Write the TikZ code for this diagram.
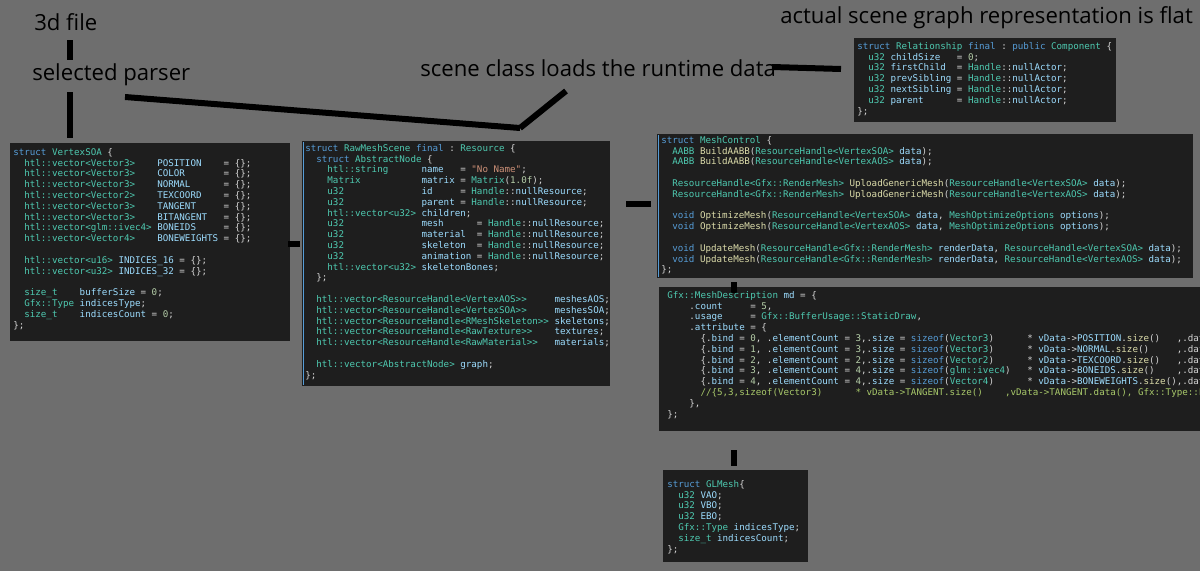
\documentclass[tikz,border=0pt]{standalone}
\usepackage{fontspec}
\setmainfont{Open Sans}
\setmonofont{DejaVu Sans Mono}
\usepackage{xcolor}
\definecolor{pagebg}{HTML}{6E6E6E}
\definecolor{codebg}{HTML}{1E1E1E}
\definecolor{kw}{HTML}{569CD6}
\definecolor{ty}{HTML}{4EC9B0}
\definecolor{va}{HTML}{9CDCFE}
\definecolor{fn}{HTML}{DCDCAA}
\definecolor{st}{HTML}{CE9178}
\definecolor{nu}{HTML}{B5CEA8}
\definecolor{cm}{HTML}{A8C86A}
\definecolor{pl}{HTML}{D4D4D4}
\newcommand\K[1]{\textcolor{kw}{#1}}
\newcommand\T[1]{\textcolor{ty}{#1}}
\newcommand\V[1]{\textcolor{va}{#1}}
\newcommand\F[1]{\textcolor{fn}{#1}}
\newcommand\Sx[1]{\textcolor{st}{#1}}
\newcommand\N[1]{\textcolor{nu}{#1}}
\newcommand\codefont{\fontsize{6.9}{8.1}\selectfont\ttfamily\color{pl}}
\begin{document}
\begin{tikzpicture}[x=0.75pt,y=-0.75pt,
  box/.style={draw=none,fill=codebg},
  code/.style={anchor=north west,inner sep=0pt,align=left,font=\codefont},
  lab/.style={anchor=west,inner sep=0pt,font=\fontsize{16.6}{18}\selectfont,text=black},
  bar/.style={line width=4.5pt,black}]
\fill[pagebg] (0,0) rectangle (1200,571);
\useasboundingbox (0,0) rectangle (1200,571);

% labels
\node[lab] (l3d) at (34,22) {3d file};
\node[lab] (lsp) at (32,75) {selected parser};
\node[lab] (lsc) at (420,68) {scene class loads the runtime data};
\node[lab] (lac) at (780,18) {actual scene graph representation is flat};

% boxes
\fill[box] (10,143) rectangle (290,341);
\fill[box] (302,141) rectangle (610,386);
\fill[box] (657,134) rectangle (1193,278);
\fill[box] (659,287) rectangle (1200,431);
\fill[box] (663,470) rectangle (808,562);
\fill[box] (854,38) rectangle (1116,122);
\draw[kw,line width=0.6pt] (303,142) -- (303,385);
\draw[kw,line width=0.6pt] (658,135) -- (658,277);

\coordinate (c1) at (70,40); \coordinate (c2) at (70,60);
\coordinate (c3) at (70,92); \coordinate (c4) at (70,138);
\coordinate (d1) at (125,97); \coordinate (d2) at (520,128);
\coordinate (d3) at (566,91);
\coordinate (e1) at (772,67); \coordinate (e2) at (841,69);
\draw[bar] (c1) -- (c2);
\draw[bar] (c3) -- (c4);
\draw[bar] (d1) -- (d2);
\draw[bar] (d3) -- (d2);
\draw[bar] (e1) -- (e2);
\draw[bar] (288,244) -- (300,244);
\draw[bar] (626,204) -- (651,204);
\draw[bar] (734,282) -- (734,293);
\draw[bar] (734,450) -- (734,466);

\node[code] (vsoa) at (13,148) {\K{struct} \T{VertexSOA} \{\\
~~\T{htl::vector<Vector3>}~~~~\V{POSITION}~~~~=~\{\};\\
~~\T{htl::vector<Vector3>}~~~~\V{COLOR}~~~~~~~=~\{\};\\
~~\T{htl::vector<Vector3>}~~~~\V{NORMAL}~~~~~~=~\{\};\\
~~\T{htl::vector<Vector2>}~~~~\V{TEXCOORD}~~~~=~\{\};\\
~~\T{htl::vector<Vector3>}~~~~\V{TANGENT}~~~~~=~\{\};\\
~~\T{htl::vector<Vector3>}~~~~\V{BITANGENT}~~~=~\{\};\\
~~\T{htl::vector<glm::ivec4>}~\V{BONEIDS}~~~~~=~\{\};\\
~~\T{htl::vector<Vector4>}~~~~\V{BONEWEIGHTS}~=~\{\};\\
~\\
~~\T{htl::vector<u16>}~\V{INDICES\_16}~=~\{\};\\
~~\T{htl::vector<u32>}~\V{INDICES\_32}~=~\{\};\\
~\\
~~\T{size\_t}~~~~\V{bufferSize}~=~\N{0};\\
~~\T{Gfx::Type}~\V{indicesType};\\
~~\T{size\_t}~~~~\V{indicesCount}~=~\N{0};\\
\};};

\node[code] (rms) at (305,144) {\K{struct} \T{RawMeshScene} \K{final} : \T{Resource} \{\\
~~\K{struct} \T{AbstractNode} \{\\
~~~~\T{htl::string}~~~~~~\V{name}~~~=~\Sx{"No Name"};\\
~~~~\T{Matrix}~~~~~~~~~~~\V{matrix}~=~\T{Matrix}(\N{1.0f});\\
~~~~\T{u32}~~~~~~~~~~~~~~\V{id}~~~~~=~\T{Handle}::\V{nullResource};\\
~~~~\T{u32}~~~~~~~~~~~~~~\V{parent}~=~\T{Handle}::\V{nullResource};\\
~~~~\T{htl::vector<u32>}~\V{children};\\
~~~~\T{u32}~~~~~~~~~~~~~~\V{mesh}~~~~~~=~\T{Handle}::\V{nullResource};\\
~~~~\T{u32}~~~~~~~~~~~~~~\V{material}~~=~\T{Handle}::\V{nullResource};\\
~~~~\T{u32}~~~~~~~~~~~~~~\V{skeleton}~~=~\T{Handle}::\V{nullResource};\\
~~~~\T{u32}~~~~~~~~~~~~~~\V{animation}~=~\T{Handle}::\V{nullResource};\\
~~~~\T{htl::vector<u32>}~\V{skeletonBones};\\
~~\};\\
~\\
~~\T{htl::vector<ResourceHandle<VertexAOS>{}>}~~~~~\V{meshesAOS};\\
~~\T{htl::vector<ResourceHandle<VertexSOA>{}>}~~~~~\V{meshesSOA};\\
~~\T{htl::vector<ResourceHandle<RMeshSkeleton>{}>}~\V{skeletons};\\
~~\T{htl::vector<ResourceHandle<RawTexture>{}>}~~~~\V{textures};\\
~~\T{htl::vector<ResourceHandle<RawMaterial>{}>}~~~\V{materials};\\
~\\
~~\T{htl::vector<AbstractNode>}~\V{graph};\\
\};};

\node[code] (mc) at (661,136) {\K{struct} \T{MeshControl} \{\\
~~\T{AABB} \F{BuildAABB}(\T{ResourceHandle<VertexSOA>} \V{data});\\
~~\T{AABB} \F{BuildAABB}(\T{ResourceHandle<VertexAOS>} \V{data});\\
~\\
~~\T{ResourceHandle<Gfx::RenderMesh>} \F{UploadGenericMesh}(\T{ResourceHandle<VertexSOA>} \V{data});\\
~~\T{ResourceHandle<Gfx::RenderMesh>} \F{UploadGenericMesh}(\T{ResourceHandle<VertexAOS>} \V{data});\\
~\\
~~\K{void} \F{OptimizeMesh}(\T{ResourceHandle<VertexSOA>} \V{data}, \T{MeshOptimizeOptions} \V{options});\\
~~\K{void} \F{OptimizeMesh}(\T{ResourceHandle<VertexAOS>} \V{data}, \T{MeshOptimizeOptions} \V{options});\\
~\\
~~\K{void} \F{UpdateMesh}(\T{ResourceHandle<Gfx::RenderMesh>} \V{renderData}, \T{ResourceHandle<VertexSOA>} \V{data});\\
~~\K{void} \F{UpdateMesh}(\T{ResourceHandle<Gfx::RenderMesh>} \V{renderData}, \T{ResourceHandle<VertexAOS>} \V{data});\\
\};};

\begin{scope}
\clip (659,287) rectangle (1200,431);
\node[code] (md) at (667,291) {\T{Gfx::MeshDescription} \V{md} = \{\\
~~~~.\V{count}~~~~~=~\N{5},\\
~~~~.\V{usage}~~~~~=~\T{Gfx::BufferUsage::StaticDraw},\\
~~~~.\V{attribute}~=~\{\\
~~~~~~\{.\V{bind}~=~\N{0},~.\V{elementCount}~=~\N{3},.\V{size}~=~\K{sizeof}(\T{Vector3})~~~~~~*~\V{vData}->\V{POSITION}.\F{size}()~~~,.dat\\
~~~~~~\{.\V{bind}~=~\N{1},~.\V{elementCount}~=~\N{3},.\V{size}~=~\K{sizeof}(\T{Vector3})~~~~~~*~\V{vData}->\V{NORMAL}.\F{size}()~~~~~,.dat\\
~~~~~~\{.\V{bind}~=~\N{2},~.\V{elementCount}~=~\N{2},.\V{size}~=~\K{sizeof}(\T{Vector2})~~~~~~*~\V{vData}->\V{TEXCOORD}.\F{size}()~~~,.dat\\
~~~~~~\{.\V{bind}~=~\N{3},~.\V{elementCount}~=~\N{4},.\V{size}~=~\K{sizeof}(\T{glm::ivec4})~~~*~\V{vData}->\V{BONEIDS}.\F{size}()~~~~,.dat\\
~~~~~~\{.\V{bind}~=~\N{4},~.\V{elementCount}~=~\N{4},.\V{size}~=~\K{sizeof}(\T{Vector4})~~~~~~*~\V{vData}->\V{BONEWEIGHTS}.\F{size}(),.dat\\
~~~~~~\textcolor{cm}{//\{5,3,sizeof(Vector3)~~~~~~*~vData->TANGENT.size()~~~~,vData->TANGENT.data(),~Gfx::Type::F}\\
~~~~\},\\
\};};
\end{scope}

\node[code] (gl) at (667,480) {\K{struct} \T{GLMesh}\{\\
~~\T{u32} \V{VAO};\\
~~\T{u32} \V{VBO};\\
~~\T{u32} \V{EBO};\\
~~\T{Gfx::Type} \V{indicesType};\\
~~\T{size\_t} \V{indicesCount};\\
\};};

\node[code] (rel) at (857,42) {\K{struct} \T{Relationship} \K{final} : \K{public} \T{Component} \{\\
~~\T{u32} \V{childSize}~~~=~\N{0};\\
~~\T{u32} \V{firstChild}~~=~\T{Handle}::\V{nullActor};\\
~~\T{u32} \V{prevSibling}~=~\T{Handle}::\V{nullActor};\\
~~\T{u32} \V{nextSibling}~=~\T{Handle}::\V{nullActor};\\
~~\T{u32} \V{parent}~~~~~~=~\T{Handle}::\V{nullActor};\\
\};};
\end{tikzpicture}
\end{document}
